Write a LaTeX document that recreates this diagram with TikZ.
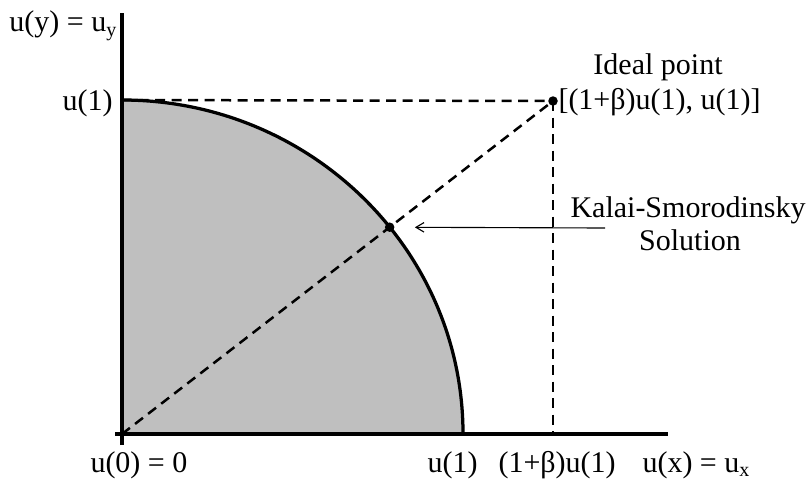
\documentclass[tikz,border=0pt]{standalone}
\usepackage{fontspec}
\setmainfont{Liberation Serif}
\usetikzlibrary{arrows.meta,calc}

\begin{document}
\begin{tikzpicture}[
  x=0.4pt, y=0.4pt,
  every node/.style={font=\fontsize{12pt}{14pt}\selectfont, inner sep=0pt},
  axis/.style={line width=1.4pt},
  frontier/.style={line width=1.3pt},
  guide/.style={line width=1pt, dash pattern=on 4pt off 2.6pt},
  dot/.style={circle, fill, inner sep=0pt, minimum size=3.8pt}
]
  \useasboundingbox (0,0) rectangle (810,481);
  % points of the plot
  \coordinate (O) at (122,47);
  \coordinate (ytop) at (122,468);
  \coordinate (ybot) at (122,36);
  \coordinate (xleft) at (115,47);
  \coordinate (xright) at (668,47);
  \coordinate (u1) at (122,381);
  \coordinate (foot) at (553,47);
  \coordinate (tail) at (605,253);
  % bargaining set
  \fill[gray!50] (O) -- (u1) arc[start angle=90, end angle=0, x radius=136.4pt, y radius=133.6pt] -- cycle;
  \draw[frontier] (u1) arc[start angle=90, end angle=0, x radius=136.4pt, y radius=133.6pt];
  \draw[axis] (ybot) -- (ytop);
  \draw[axis] (xleft) -- (xright);
  \node[dot] (ideal) at (553,380) {};
  \draw[guide] (u1) -- (ideal.center);
  \draw[guide] (ideal.center) -- (foot);
  \draw[guide] (O) -- (ideal.center);
  \node[dot] (ks) at ($(O)!0.621!(ideal)$) {};
  \draw[line width=0.45pt, -{Straight Barb[length=3.2pt,width=3.8pt]}, shorten >=8pt] (tail) -- (ks);
  % labels
  \node[anchor=base east] (ylbl) at (118,449) {u(y) = u\textsubscript{y}};
  \node[anchor=base east] (u1lbl) at (113,371) {u(1)};
  \node[anchor=base] (ideallbl) at (658,406) {Ideal point};
  \node[anchor=base west] (idealval) at (558,372) {[(1+β)u(1), u(1)]};
  \node[anchor=base] (kslbl) at (688,264) {Kalai-Smorodinsky};
  \node[anchor=base] (kssol) at (690,231) {Solution};
  \node[anchor=base west] (zerolbl) at (90,9) {u(0) = 0};
  \node[anchor=base west] (xu1lbl) at (427,9) {u(1)};
  \node[anchor=base west] (xbetalbl) at (498,9) {(1+β)u(1)};
  \node[anchor=base west] (xlbl) at (642,9) {u(x) = u\textsubscript{x}};
\end{tikzpicture}
\end{document}
